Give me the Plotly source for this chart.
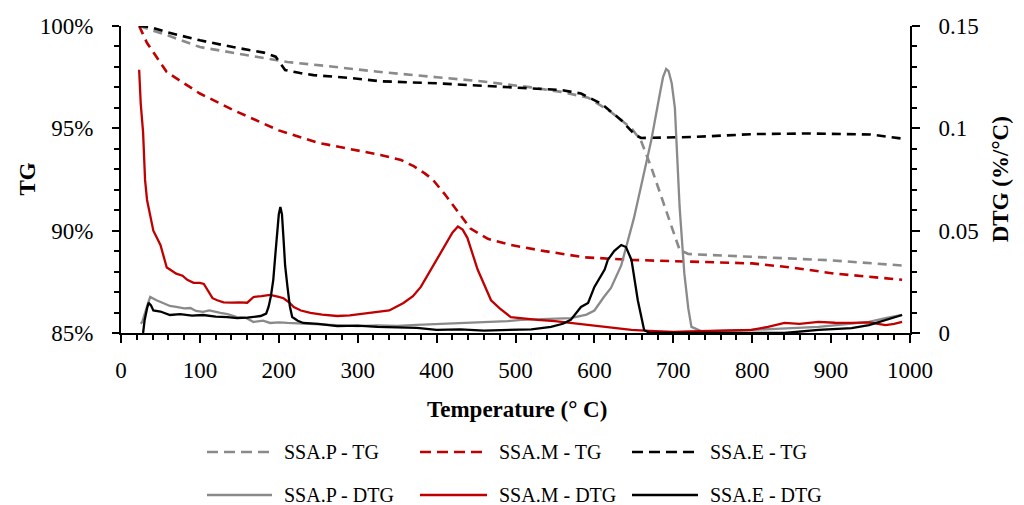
import plotly.graph_objects as go

# ---------------- data ----------------
# Temperature (°C) and TG mass fraction (%) for each sample
P_TG_T = [23, 40, 58, 100, 142, 200, 211, 260, 329, 400, 456, 520, 558, 592, 621, 647,
          659, 672, 685, 698, 708, 719, 812, 900, 990]
P_TG = [100, 99.8, 99.56, 98.97, 98.68, 98.3, 98.24, 98.05, 97.75, 97.5, 97.3, 97.0, 96.78,
        96.5, 95.8, 95.0, 94.4, 93.1, 91.6, 90.2, 89.06, 88.86, 88.7, 88.55, 88.3]

M_TG_T = [23, 33, 58, 100, 142, 200, 249, 287, 329, 355, 371, 385, 395, 410, 427, 443,
          465, 494, 537, 587, 647, 700, 800, 850, 905, 990]
M_TG = [100, 99.17, 97.75, 96.7, 95.9, 94.9, 94.3, 94.0, 93.7, 93.45, 93.15, 92.8, 92.5,
        91.8, 90.9, 90.1, 89.6, 89.3, 89.0, 88.7, 88.57, 88.5, 88.4, 88.2, 87.9, 87.6]

E_TG_T = [23, 37, 58, 100, 142, 181, 196, 202, 208, 227, 244, 291, 329, 400, 456, 520,
          558, 583, 609, 634, 651, 659, 690, 727, 803, 870, 950, 990]
E_TG = [100, 99.95, 99.7, 99.3, 98.97, 98.7, 98.5, 98.2, 97.85, 97.7, 97.6, 97.46, 97.3,
        97.2, 97.1, 96.95, 96.87, 96.7, 96.2, 95.4, 94.7, 94.53, 94.55, 94.58, 94.72,
        94.75, 94.7, 94.5]

# Temperature (°C) and DTG (%/°C) for each sample
P_DTG_T = [25, 27, 33, 37, 45, 52, 62, 70, 80, 88, 95, 104, 112, 126, 135, 147, 158, 168,
           180, 189, 200, 211, 230, 253, 280, 300, 325, 350, 375, 401, 430, 465, 490, 507,
           530, 550, 570, 590, 600, 612, 621, 634, 643, 650, 659, 672, 683, 687, 691, 694,
           698, 702, 708, 714, 719, 723, 736, 760, 799, 830, 860, 884, 910, 930, 948, 969,
           980, 990]
P_DTG = [0.0045, 0.0054, 0.013, 0.0176, 0.016, 0.015, 0.0132, 0.0128, 0.012, 0.0122,
         0.0108, 0.0103, 0.011, 0.0098, 0.0092, 0.0078, 0.0075, 0.0054, 0.006, 0.0049,
         0.0052, 0.0049, 0.0046, 0.0044, 0.004, 0.0034, 0.0037, 0.0035, 0.004, 0.0044,
         0.0048, 0.0054, 0.0058, 0.0064, 0.0066, 0.007, 0.0073, 0.009, 0.011, 0.0176,
         0.022, 0.033, 0.0455, 0.056, 0.0714, 0.094, 0.117, 0.125, 0.129, 0.128, 0.122,
         0.11, 0.0616, 0.029, 0.012, 0.003, 0.0008, 0.001, 0.0015, 0.002, 0.0025, 0.003,
         0.004, 0.0048, 0.0054, 0.0073, 0.008, 0.0088]

M_DTG_T = [23, 25, 28, 30.5, 33, 37, 41, 50, 58, 62, 70, 78, 84, 92, 100, 105, 111, 116,
           122, 130, 140, 150, 160, 168, 178, 189, 200, 206, 213, 219, 228, 240, 255, 274,
           290, 316, 340, 358, 370, 380, 397, 414, 420, 427, 433, 439, 452, 469, 480, 494,
           510, 528, 550, 570, 590, 612, 630, 647, 670, 700, 720, 740, 760, 780, 799, 820,
           841, 860, 884, 905, 926, 948, 969, 980, 990]
M_DTG = [0.1286, 0.112, 0.098, 0.0748, 0.065, 0.058, 0.05, 0.043, 0.032, 0.031, 0.029,
         0.028, 0.026, 0.0245, 0.0245, 0.024, 0.02, 0.017, 0.016, 0.015, 0.0148, 0.015,
         0.0148, 0.0176, 0.018, 0.0186, 0.0176, 0.017, 0.015, 0.0127, 0.011, 0.0098,
         0.009, 0.0083, 0.0086, 0.0098, 0.011, 0.0147, 0.018, 0.0225, 0.034, 0.0455,
         0.049, 0.052, 0.0505, 0.0465, 0.031, 0.016, 0.012, 0.0078, 0.007, 0.0064, 0.0058,
         0.0049, 0.0042, 0.003, 0.0022, 0.0015, 0.001, 0.0005, 0.0008, 0.001, 0.0012,
         0.0015, 0.0015, 0.003, 0.0049, 0.0045, 0.0054, 0.005, 0.0049, 0.0052, 0.0039,
         0.0045, 0.0054]

E_DTG_T = [28, 30, 33, 35, 38, 41, 50, 62, 75, 90, 104, 120, 135, 147, 160, 177, 184, 187,
           190, 193, 196, 198, 200, 202, 204, 206, 208, 211, 214, 217, 224, 231, 250, 274,
           300, 325, 350, 375, 400, 430, 460, 498, 520, 545, 560, 570, 583, 592, 600, 613,
           617, 625, 634, 640, 647, 655, 660, 663, 670, 700, 750, 800, 841, 884, 926, 948,
           969, 980, 990]
E_DTG = [0, 0.0064, 0.012, 0.0147, 0.0135, 0.011, 0.0105, 0.0088, 0.0092, 0.0085, 0.0088,
         0.008, 0.0078, 0.0073, 0.0075, 0.0083, 0.0095, 0.0127, 0.018, 0.026, 0.04, 0.05,
         0.058, 0.0616, 0.058, 0.046, 0.033, 0.0225, 0.013, 0.0078, 0.006, 0.0049, 0.0045,
         0.0034, 0.0036, 0.003, 0.0028, 0.0025, 0.0015, 0.0018, 0.0012, 0.0015, 0.0018,
         0.003, 0.0045, 0.0064, 0.0127, 0.0147, 0.0225, 0.031, 0.0357, 0.04, 0.043, 0.042,
         0.0357, 0.016, 0.006, 0.0015, 0, 0, 0, 0.0003, 0, 0.0015, 0.0024, 0.0039, 0.0064,
         0.0075, 0.0088]

TG_TICKS = [85, 90, 95, 100]
TG_LABELS = ["85%", "90%", "95%", "100%"]
DTG_TICKS = [0, 0.05, 0.1, 0.15]
DTG_LABELS = ["0", "0.05", "0.1", "0.15"]

# ---------------- styling ----------------
FONT = "Liberation Serif"
GRAY = "#8a8a8a"
RED = "#c00000"
BLACK = "#000000"
TG_DASH = "9px,6px"
LEGEND_DASH = "11px,6px"

series = [
    ("SSA.P - TG", P_TG_T, P_TG, GRAY, "tg"),
    ("SSA.M - TG", M_TG_T, M_TG, RED, "tg"),
    ("SSA.E - TG", E_TG_T, E_TG, BLACK, "tg"),
    ("SSA.P - DTG", P_DTG_T, P_DTG, GRAY, "dtg"),
    ("SSA.M - DTG", M_DTG_T, M_DTG, RED, "dtg"),
    ("SSA.E - DTG", E_DTG_T, E_DTG, BLACK, "dtg"),
]

fig = go.Figure()
for name, xs, ys, color, kind in series:
    fig.add_trace(go.Scatter(
        x=xs, y=ys, name=name, mode="lines",
        yaxis="y" if kind == "tg" else "y2",
        line=dict(color=color, width=2.6 if kind == "tg" else 2.3,
                  dash=TG_DASH if kind == "tg" else "solid"),
        showlegend=False,
    ))

axis_common = dict(showgrid=False, zeroline=False, tickcolor="black", tickwidth=2,
                   linecolor="black", linewidth=2, tickfont=dict(family=FONT, size=23))
minor_common = dict(ticks="outside", ticklen=5, tickwidth=1.5, tickcolor="black",
                    showgrid=False)
inside_common = dict(showgrid=False, zeroline=False, showline=False, ticks="inside",
                     ticklen=7, tickwidth=2, tickcolor="black", showticklabels=False)

fig.update_layout(
    width=1024, height=505,
    margin=dict(l=121, r=114, t=26, b=172, autoexpand=False),
    paper_bgcolor="white", plot_bgcolor="white",
    font=dict(family=FONT, size=23, color="black"),
    showlegend=False,
    xaxis=dict(range=[0, 1000], tick0=0, dtick=100, ticks="outside", ticklen=8,
               showline=True, ticklabelstandoff=7,
               minor=dict(dtick=20, **minor_common), **axis_common),
    xaxis2=dict(overlaying="x", anchor="y", side="bottom", range=[0, 1000], tick0=0,
                dtick=100, **inside_common),
    yaxis=dict(range=[85, 100], tickvals=TG_TICKS, ticktext=TG_LABELS, ticks="outside",
               ticklen=7, showline=True, ticklabelstandoff=14,
               minor=dict(tick0=85, dtick=1, **minor_common), **axis_common),
    yaxis2=dict(overlaying="y", side="right", anchor="x", range=[0, 0.15],
                tickvals=DTG_TICKS, ticktext=DTG_LABELS, ticks="outside", ticklen=8,
                showline=True, ticklabelstandoff=14,
                minor=dict(tick0=0, dtick=0.01, **minor_common), **axis_common),
    yaxis3=dict(overlaying="y", side="left", anchor="x", range=[85, 100], tick0=85,
                dtick=5, **inside_common),
    yaxis4=dict(overlaying="y", side="right", anchor="x", range=[0, 0.15], tick0=0,
                dtick=0.05, **inside_common),
)

# axis titles
title_font = dict(family=FONT, size=23, color="black")
fig.add_annotation(text="<b>Temperature (° C)</b>", xref="paper", yref="paper",
                   x=0.502, y=-0.248, xanchor="center", yanchor="middle",
                   showarrow=False, font=title_font)
fig.add_annotation(text="<b>TG</b>", xref="paper", yref="paper", x=-0.119, y=0.5,
                   xanchor="center", yanchor="middle", textangle=-90,
                   showarrow=False, font=title_font)
fig.add_annotation(text="<b>DTG (%/°C)</b>", xref="paper", yref="paper", x=1.115, y=0.5,
                   xanchor="center", yanchor="middle", textangle=-90,
                   showarrow=False, font=title_font)

# legend: two rows (TG, DTG) by three columns (P, M, E)
plot_w = 1024 - 121 - 114
plot_h = 505 - 26 - 172
col_px = [(207, 272), (420, 487), (632, 698)]
row_px = [452, 495]
for i, (name, _, _, color, kind) in enumerate(series):
    row = 0 if kind == "tg" else 1
    col = i % 3
    x0 = (col_px[col][0] - 121) / plot_w
    x1 = (col_px[col][1] - 121) / plot_w
    yy = (26 + plot_h - row_px[row]) / plot_h
    fig.add_shape(type="line", xref="paper", yref="paper", x0=x0, x1=x1, y0=yy, y1=yy,
                  line=dict(color=color, width=2.5,
                            dash=LEGEND_DASH if kind == "tg" else "solid"))
    fig.add_annotation(text=name, xref="paper", yref="paper",
                       x=(col_px[col][1] + 10 - 121) / plot_w, y=yy,
                       xanchor="left", yanchor="middle", showarrow=False,
                       font=dict(family=FONT, size=20, color="black"))

fig.write_html("out.html")
